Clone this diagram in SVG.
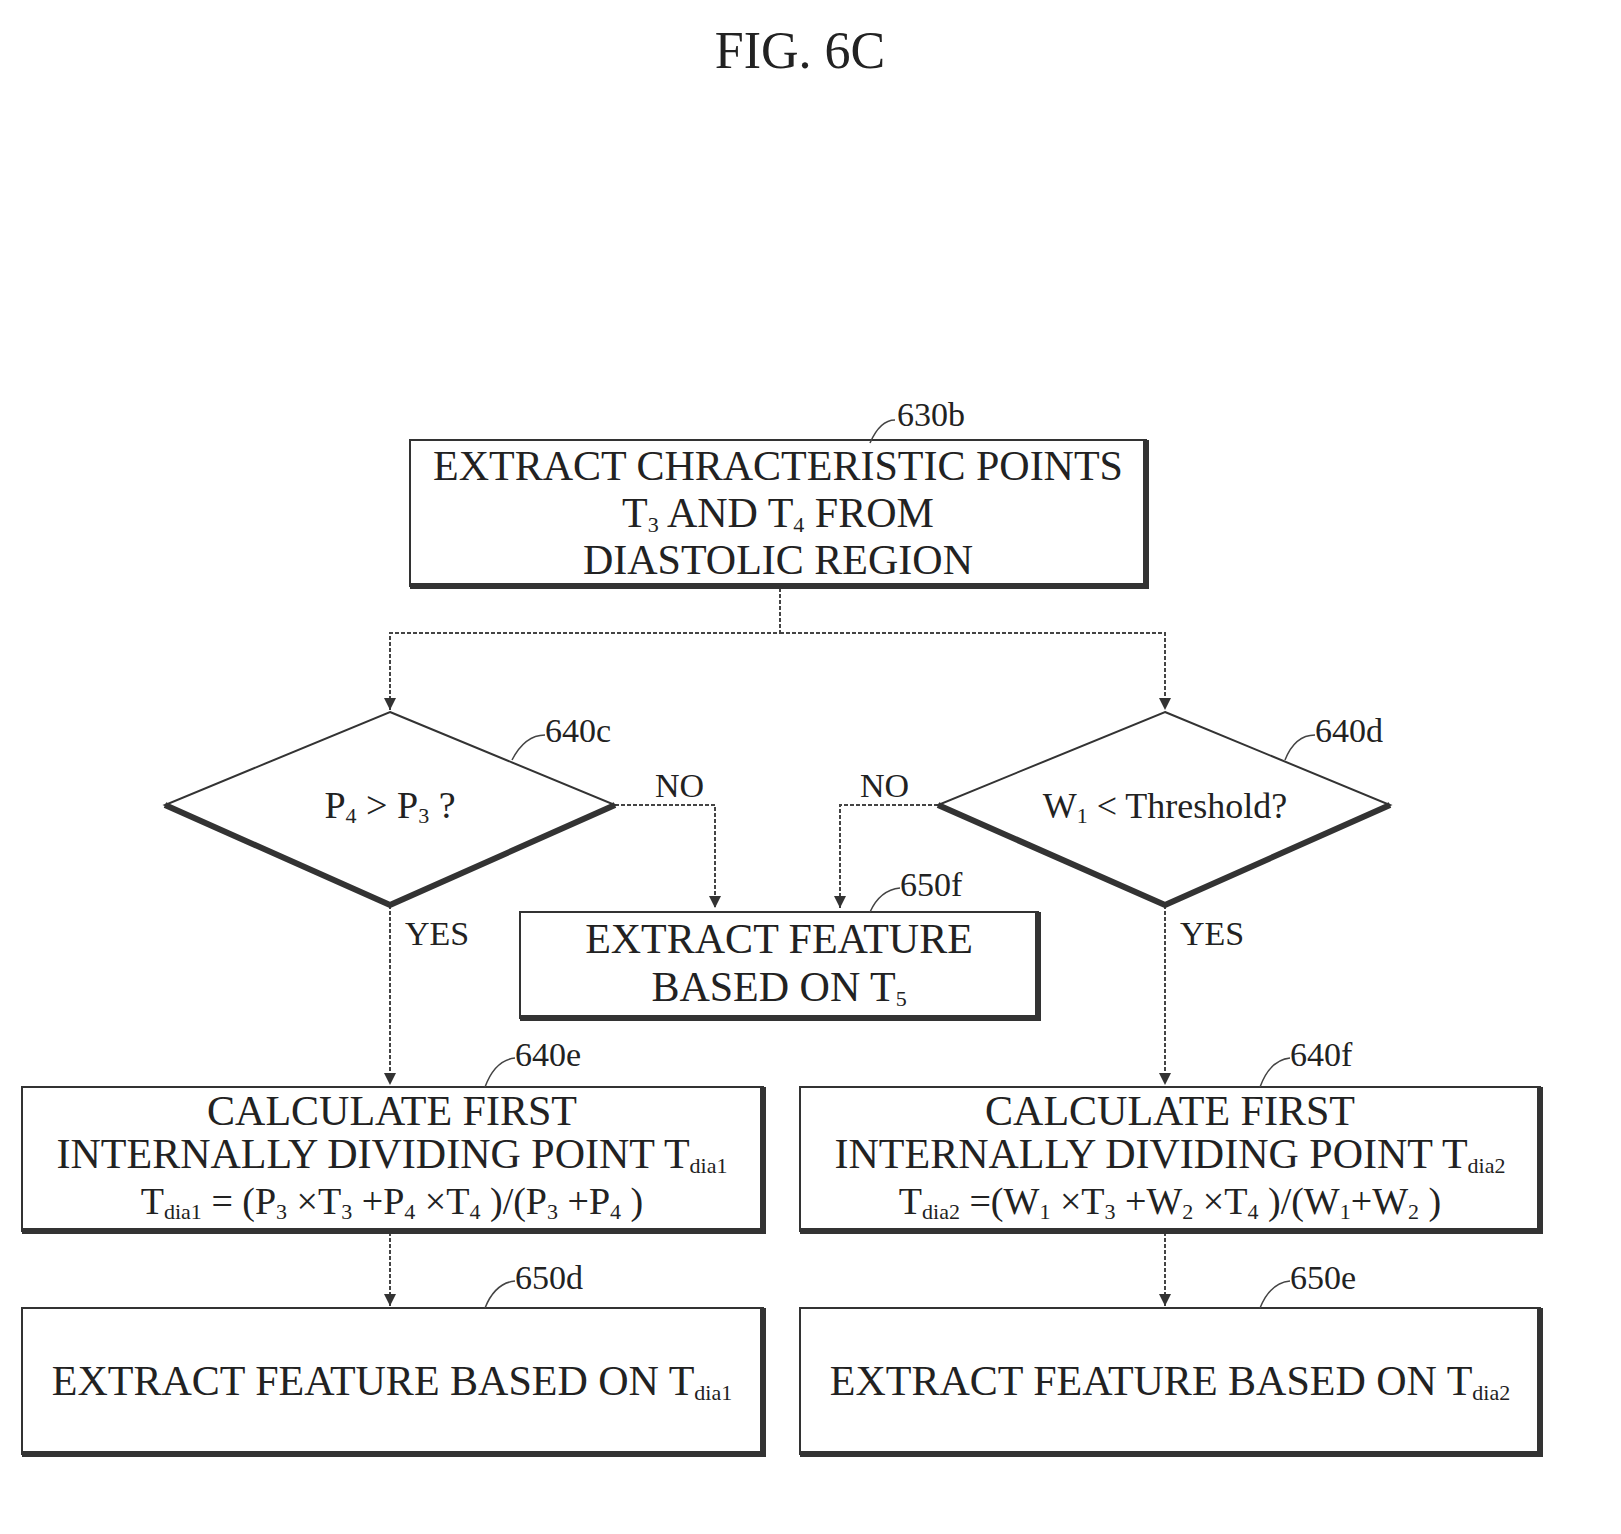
<svg xmlns="http://www.w3.org/2000/svg" width="1621" height="1534" viewBox="0 0 1621 1534">
<style>
text{font-family:"Liberation Serif","Times New Roman",serif;fill:#222}
.t{font-size:42px;text-anchor:middle}
.lb{font-size:34px}
.s{font-size:22px;baseline-shift:-5px}
.box{fill:none;stroke:#333;stroke-width:2}
.sh{fill:none;stroke:#333;stroke-width:6}
.ln{fill:none;stroke:#444;stroke-width:2;stroke-dasharray:4 2}
.ld{fill:none;stroke:#444;stroke-width:1.5}
</style>
<defs>
<marker id="ar" viewBox="0 0 12 12" markerWidth="12" markerHeight="12" refX="12" refY="6" orient="auto" markerUnits="userSpaceOnUse"><path d="M0,0 L12,6 L0,12 Z" fill="#333"/></marker></defs>
<text x="800" y="68" class="t" style="font-size:52px">FIG. 6C</text>
<g id="connectors">
<path class="ln" d="M780,588 V633 H390 V710" marker-end="url(#ar)"/>
<path class="ln" d="M780,633 H1165 V710" marker-end="url(#ar)"/>
<path class="ln" d="M615,805 H715 V908" marker-end="url(#ar)"/>
<path class="ln" d="M938,805 H840 V908" marker-end="url(#ar)"/>
<path class="ln" d="M390,905 V1085" marker-end="url(#ar)"/>
<path class="ln" d="M1165,905 V1085" marker-end="url(#ar)"/>
<path class="ln" d="M390,1232 V1306" marker-end="url(#ar)"/>
<path class="ln" d="M1165,1232 V1306" marker-end="url(#ar)"/>
<text x="655" y="797" class="lb">NO</text>
<text x="860" y="797" class="lb">NO</text>
<text x="405" y="945" class="lb">YES</text>
<text x="1180" y="945" class="lb">YES</text>
</g>
<g id="n630b">
<rect class="box" x="410" y="440" width="736" height="146"/>
<path class="sh" d="M1146,440 V586 H410"/>
<text x="778" y="480" class="t">EXTRACT CHRACTERISTIC POINTS</text>
<text x="778" y="527" class="t">T<tspan class="s">3</tspan> AND T<tspan class="s">4</tspan> FROM</text>
<text x="778" y="574" class="t">DIASTOLIC REGION</text>
<path class="ld" d="M870,443 Q880,420 895,420"/>
<text x="897" y="426" class="lb">630b</text>
</g>
<g id="n640c">
<path class="box" d="M390,712 L615,805 L390,905 L165,805 Z"/>
<path class="sh" d="M165,805 L390,905 L615,805"/>
<text x="390" y="818" class="t" style="font-size:38px">P<tspan class="s">4</tspan> &gt; P<tspan class="s">3</tspan> ?</text>
<path class="ld" d="M512,760 Q525,735 545,735"/>
<text x="545" y="742" class="lb">640c</text>
</g>
<g id="n640d">
<path class="box" d="M1165,712 L1390,805 L1165,905 L938,805 Z"/>
<path class="sh" d="M938,805 L1165,905 L1390,805"/>
<text x="1165" y="818" class="t" style="font-size:36px">W<tspan class="s">1</tspan> &lt; Threshold?</text>
<path class="ld" d="M1285,760 Q1295,735 1315,735"/>
<text x="1315" y="742" class="lb">640d</text>
</g>
<g id="n650f">
<rect class="box" x="520" y="912" width="518" height="106"/>
<path class="sh" d="M1038,912 V1018 H520"/>
<text x="779" y="953" class="t">EXTRACT FEATURE</text>
<text x="779" y="1001" class="t">BASED ON T<tspan class="s">5</tspan></text>
<path class="ld" d="M870,912 Q880,890 900,888"/>
<text x="900" y="896" class="lb">650f</text>
</g>
<g id="n640e">
<rect class="box" x="22" y="1087" width="741" height="144"/>
<path class="sh" d="M763,1087 V1231 H22"/>
<text x="392" y="1125" class="t">CALCULATE FIRST</text>
<text x="392" y="1168" class="t">INTERNALLY DIVIDING POINT T<tspan class="s">dia1</tspan></text>
<text x="392" y="1214" class="t" style="font-size:38px">T<tspan class="s">dia1</tspan> = (P<tspan class="s">3</tspan> ×T<tspan class="s">3</tspan> +P<tspan class="s">4</tspan> ×T<tspan class="s">4</tspan> )/(P<tspan class="s">3</tspan> +P<tspan class="s">4</tspan> )</text>
<path class="ld" d="M485,1087 Q495,1060 515,1058"/>
<text x="515" y="1066" class="lb">640e</text>
</g>
<g id="n640f">
<rect class="box" x="800" y="1087" width="740" height="144"/>
<path class="sh" d="M1540,1087 V1231 H800"/>
<text x="1170" y="1125" class="t">CALCULATE FIRST</text>
<text x="1170" y="1168" class="t">INTERNALLY DIVIDING POINT T<tspan class="s">dia2</tspan></text>
<text x="1170" y="1214" class="t" style="font-size:38px">T<tspan class="s">dia2</tspan> =(W<tspan class="s">1</tspan> ×T<tspan class="s">3</tspan> +W<tspan class="s">2</tspan> ×T<tspan class="s">4</tspan> )/(W<tspan class="s">1</tspan>+W<tspan class="s">2</tspan> )</text>
<path class="ld" d="M1260,1087 Q1270,1060 1290,1058"/>
<text x="1290" y="1066" class="lb">640f</text>
</g>
<g id="n650d">
<rect class="box" x="22" y="1308" width="741" height="146"/>
<path class="sh" d="M763,1308 V1454 H22"/>
<text x="392" y="1395" class="t">EXTRACT FEATURE BASED ON T<tspan class="s">dia1</tspan></text>
<path class="ld" d="M485,1308 Q495,1283 515,1281"/>
<text x="515" y="1289" class="lb">650d</text>
</g>
<g id="n650e">
<rect class="box" x="800" y="1308" width="740" height="146"/>
<path class="sh" d="M1540,1308 V1454 H800"/>
<text x="1170" y="1395" class="t">EXTRACT FEATURE BASED ON T<tspan class="s">dia2</tspan></text>
<path class="ld" d="M1260,1308 Q1270,1283 1290,1281"/>
<text x="1290" y="1289" class="lb">650e</text>
</g>
</svg>
